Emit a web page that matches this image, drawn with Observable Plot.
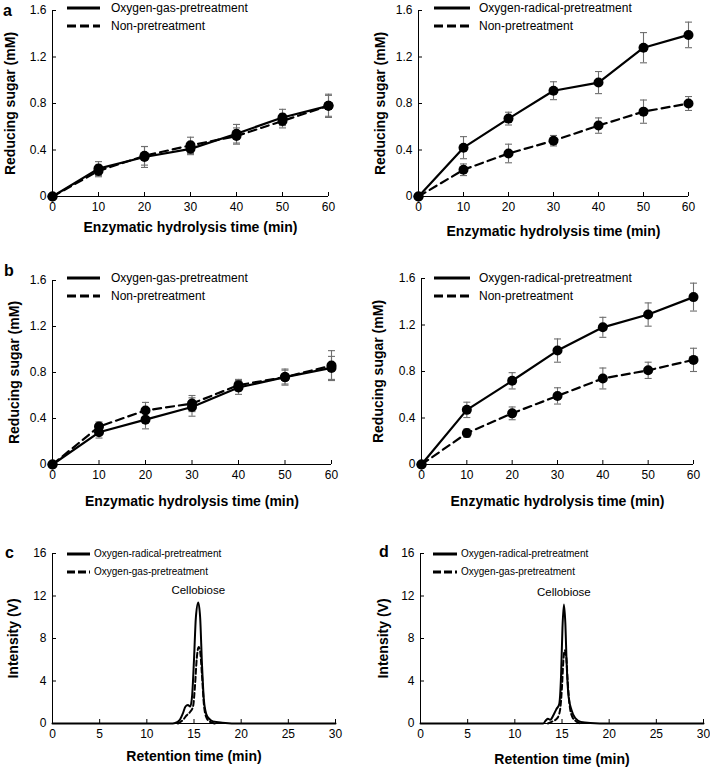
<!DOCTYPE html>
<html><head><meta charset="utf-8">
<script src="https://cdn.jsdelivr.net/npm/d3@7"></script>
<script src="https://cdn.jsdelivr.net/npm/@observablehq/plot@0.6"></script>
<style>
body{margin:0;background:#fff;}
#fig{position:relative;width:710px;height:770px;font-family:"Liberation Sans",Arial,sans-serif;color:#000;}
.panel{position:absolute;}
.panel svg{overflow:visible;}
g[aria-label="x-axis label"] text, g[aria-label="y-axis label"] text{font-weight:bold;font-size:14px;}
.letter{position:absolute;font-weight:bold;font-size:16px;line-height:16px;}
.leg{position:absolute;line-height:1;display:flex;align-items:center;white-space:nowrap;height:16px;}
.leg svg{display:block;}
</style></head>
<body><div id="fig"></div>
<script>
// ---------- data ----------
const timeMin = [0, 10, 20, 30, 40, 50, 60];
const sugarTicks = [0, 0.4, 0.8, 1.2, 1.6];
const timeTicks = [0, 10, 20, 30, 40, 50, 60];

// panel a, left: oxygen-gas vs non-pretreatment
const aGas    = [0, 0.24, 0.34, 0.41, 0.54, 0.68, 0.78];
const aGasErr = [0, 0.06, 0.09, 0.05, 0.08, 0.07, 0.10];
const aNon    = [0, 0.22, 0.35, 0.44, 0.52, 0.65, 0.78];
const aNonErr = [0, 0.05, 0.08, 0.07, 0.07, 0.06, 0.09];
// panel a, right: oxygen-radical vs non-pretreatment
const aRad    = [0, 0.42, 0.67, 0.91, 0.98, 1.28, 1.39];
const aRadErr = [0, 0.095, 0.055, 0.077, 0.095, 0.13, 0.11];
const aNon2    = [0, 0.23, 0.37, 0.48, 0.61, 0.73, 0.80];
const aNon2Err = [0, 0.05, 0.08, 0.045, 0.066, 0.10, 0.06];
// panel b, left
const bGas    = [0, 0.28, 0.39, 0.50, 0.67, 0.76, 0.84];
const bGasErr = [0, 0.05, 0.08, 0.08, 0.06, 0.07, 0.10];
const bNon    = [0, 0.33, 0.47, 0.53, 0.69, 0.76, 0.86];
const bNonErr = [0, 0.04, 0.07, 0.07, 0.05, 0.06, 0.13];
// panel b, right
const bRad    = [0, 0.47, 0.72, 0.98, 1.18, 1.29, 1.44];
const bRadErr = [0, 0.066, 0.07, 0.10, 0.086, 0.10, 0.12];
const bNon2    = [0, 0.27, 0.44, 0.59, 0.74, 0.81, 0.90];
const bNon2Err = [0, 0.035, 0.055, 0.07, 0.09, 0.07, 0.10];

// chromatograms
const rtTicks = [0, 5, 10, 15, 20, 25, 30];
const intensityTicks = [0, 4, 8, 12, 16];
const cRadT = [0, 12.5, 13.0, 13.5, 13.8, 14.1, 14.35, 14.6, 14.8, 15.0, 15.2, 15.45, 15.65, 15.85, 16.05, 16.3, 16.6, 17.0, 18.0, 20.0, 30];
const cRadI = [0, 0, 0.05, 0.35, 0.9, 1.6, 1.75, 1.6, 2.6, 6.0, 10.0, 11.4, 10.0, 5.5, 2.2, 0.9, 0.45, 0.2, 0.08, 0, 0];
const cGasT = [13.3, 13.8, 14.2, 14.6, 14.9, 15.1, 15.3, 15.5, 15.65, 15.85, 16.05, 16.3, 16.7, 17.2];
const cGasI = [0, 0.3, 0.75, 1.1, 1.6, 3.5, 6.2, 7.2, 6.8, 4.5, 1.8, 0.6, 0.15, 0];
const dRadT = [0, 13.0, 13.3, 13.5, 13.75, 14.1, 14.4, 14.7, 14.9, 15.05, 15.2, 15.35, 15.5, 15.7, 16.0, 16.4, 17.0, 18.0, 20.0, 30];
const dRadI = [0, 0, 0.3, 0.45, 0.35, 0.8, 1.35, 1.8, 4.5, 9.0, 11.2, 9.5, 5.5, 2.5, 1.3, 0.5, 0.15, 0.05, 0, 0];
const dGasT = [13.5, 14.0, 14.5, 14.8, 15.0, 15.15, 15.3, 15.45, 15.6, 15.8, 16.1, 16.5, 17.0];
const dGasI = [0, 0.2, 0.5, 1.3, 3.5, 6.0, 6.9, 6.3, 4.0, 1.8, 0.6, 0.2, 0];

const legGasNon = ["Oxygen-gas-pretreatment", "Non-pretreatment"];
const legRadNon = ["Oxygen-radical-pretreatment", "Non-pretreatment"];
const legRadGas = ["Oxygen-radical-pretreatment", "Oxygen-gas-pretreatment"];
// ---------- end data ----------

const fig = document.getElementById("fig");
const DASH = "8,5";
const capSymbol = {draw(ctx, size) { const r = Math.sqrt(size / Math.PI); ctx.moveTo(-r, 0); ctx.lineTo(r, 0); }};
const rows = (vals, errs) => timeMin.map((t, i) => ({t, v: vals[i], lo: vals[i] - errs[i], hi: vals[i] + errs[i]}));

function place(el, left, top) { el.classList.add("panel"); el.style.left = left + "px"; el.style.top = top + "px"; fig.appendChild(el); }

const axisCommon = {tickSize: -4, tickPadding: 10, labelAnchor: "center", labelArrow: "none"};

function sugarPanel(p) {
  const marks = [];
  for (const s of p.series) {
    const d = rows(s.v, s.e);
    marks.push(Plot.ruleX(d, {x: "t", y1: "lo", y2: "hi", stroke: "#6e6e6e", strokeWidth: 1.1}));
    marks.push(Plot.dot(d, {x: "t", y: "lo", symbol: capSymbol, r: 3.5, stroke: "#6e6e6e", strokeWidth: 1.1, fill: "none"}));
    marks.push(Plot.dot(d, {x: "t", y: "hi", symbol: capSymbol, r: 3.5, stroke: "#6e6e6e", strokeWidth: 1.1, fill: "none"}));
  }
  marks.push(Plot.ruleX([0], {stroke: "black", strokeWidth: 1}));
  marks.push(Plot.ruleY([0], {stroke: "black", strokeWidth: 1}));
  for (const s of p.series) {
    const d = rows(s.v, s.e);
    marks.push(Plot.line(d, {x: "t", y: "v", stroke: "black", strokeWidth: 2.2, strokeDasharray: s.dash ? DASH : null}));
  }
  for (const s of p.series) {
    const d = rows(s.v, s.e);
    marks.push(Plot.dot(d, {x: "t", y: "v", r: 5, fill: "black", stroke: "none"}));
  }
  const chart = Plot.plot({
    width: p.w, height: p.h,
    marginLeft: p.m[0], marginRight: p.m[1], marginTop: p.m[2], marginBottom: p.m[3],
    style: {fontFamily: "'Liberation Sans', Arial, sans-serif", fontSize: "12px", background: "white", color: "black"},
    x: {...axisCommon, domain: [0, 60], ticks: timeTicks, label: "Enzymatic hydrolysis time (min)", labelOffset: p.xo, tickFormat: d => String(d)},
    y: {...axisCommon, domain: [0, 1.6], ticks: sugarTicks, label: "Reducing sugar (mM)", labelOffset: p.yo, tickFormat: d => d === 0 ? "0" : d.toFixed(1)},
    marks
  });
  place(chart, p.left, p.top);
}

function chromPanel(p) {
  const solid = p.solidT.map((t, i) => ({t, v: p.solidI[i]}));
  const dashed = p.dashT.map((t, i) => ({t, v: p.dashI[i]}));
  const peak = [solid.reduce((a, b) => (b.v > a.v ? b : a))];
  const chart = Plot.plot({
    width: p.w, height: p.h,
    marginLeft: p.m[0], marginRight: p.m[1], marginTop: p.m[2], marginBottom: p.m[3],
    style: {fontFamily: "'Liberation Sans', Arial, sans-serif", fontSize: "12px", background: "white", color: "black"},
    x: {...axisCommon, domain: [0, 30], ticks: rtTicks, label: "Retention time (min)", labelOffset: p.xo, tickFormat: d => String(d)},
    y: {...axisCommon, domain: [0, 16], ticks: intensityTicks, label: "Intensity (V)", labelOffset: p.yo, tickFormat: d => String(d)},
    marks: [
      Plot.ruleX([0], {stroke: "black", strokeWidth: 1}),
      Plot.ruleY([0], {stroke: "black", strokeWidth: 1}),
      Plot.line(dashed, {x: "t", y: "v", stroke: "black", strokeWidth: 2, strokeDasharray: "5,3", curve: "monotone-x"}),
      Plot.line(solid, {x: "t", y: "v", stroke: "black", strokeWidth: 2, curve: "monotone-x"}),
      Plot.text(peak, {x: "t", y: "v", text: () => "Cellobiose", dy: -12, fontSize: 11.5, lineAnchor: "middle"})
    ]
  });
  place(chart, p.left, p.top);
}

function legend(x, y, sw, gap, fs, lw, dash, items, rowGap) {
  items.forEach((label, i) => {
    const div = document.createElement("div");
    div.className = "leg";
    div.style.left = x + "px";
    div.style.top = (y + i * rowGap - 8) + "px";
    div.style.fontSize = fs + "px";
    const ns = "http://www.w3.org/2000/svg";
    const svg = document.createElementNS(ns, "svg");
    svg.setAttribute("width", sw); svg.setAttribute("height", 8);
    const ln = document.createElementNS(ns, "line");
    ln.setAttribute("x1", 0); ln.setAttribute("x2", sw); ln.setAttribute("y1", 4); ln.setAttribute("y2", 4);
    ln.setAttribute("stroke", "black"); ln.setAttribute("stroke-width", lw);
    if (i === 1) ln.setAttribute("stroke-dasharray", dash);
    svg.appendChild(ln);
    const span = document.createElement("span");
    span.textContent = label;
    span.style.marginLeft = gap + "px";
    div.appendChild(svg); div.appendChild(span);
    fig.appendChild(div);
  });
}

function letter(ch, x, y) {
  const d = document.createElement("div");
  d.className = "letter"; d.textContent = ch;
  d.style.left = x + "px"; d.style.top = y + "px";
  fig.appendChild(d);
}

sugarPanel({left: 0, top: 0, w: 355, h: 250, m: [52, 27, 10, 54], xo: 35, yo: 47,
  series: [{v: aGas, e: aGasErr, dash: false}, {v: aNon, e: aNonErr, dash: true}]});
sugarPanel({left: 355, top: 0, w: 355, h: 250, m: [63, 22, 10, 54], xo: 39, yo: 43,
  series: [{v: aRad, e: aRadErr, dash: false}, {v: aNon2, e: aNon2Err, dash: true}]});
sugarPanel({left: 0, top: 255, w: 355, h: 255, m: [52, 24, 25, 46], xo: 41, yo: 43,
  series: [{v: bGas, e: bGasErr, dash: false}, {v: bNon, e: bNonErr, dash: true}]});
sugarPanel({left: 355, top: 255, w: 355, h: 255, m: [66, 17, 23, 46], xo: 41, yo: 48,
  series: [{v: bRad, e: bRadErr, dash: false}, {v: bNon2, e: bNon2Err, dash: true}]});
chromPanel({left: 0, top: 510, w: 355, h: 260, m: [52, 20, 43, 47], xo: 37, yo: 44,
  solidT: cRadT, solidI: cRadI, dashT: cGasT, dashI: cGasI});
chromPanel({left: 355, top: 510, w: 355, h: 260, m: [65, 7, 43, 47], xo: 40, yo: 42,
  solidT: dRadT, solidI: dRadI, dashT: dGasT, dashI: dGasI});

legend(67, 8, 33, 11, 12, 3, "9,4", legGasNon, 18);
legend(434, 8, 36, 9, 12, 3, "9,4", legRadNon, 18);
legend(67, 278, 33, 11, 12, 3, "9,4", legGasNon, 18);
legend(434, 278, 36, 9, 12, 3, "9,4", legRadNon, 18);
legend(67, 554, 23, 4, 10, 3, "8,3", legRadGas, 18);
legend(433, 554, 24, 4, 10, 3, "8,3", legRadGas, 18);

letter("a", 3, 3);
letter("b", 4, 263);
letter("c", 5, 545);
letter("d", 379, 544);
</script>
</body></html>
